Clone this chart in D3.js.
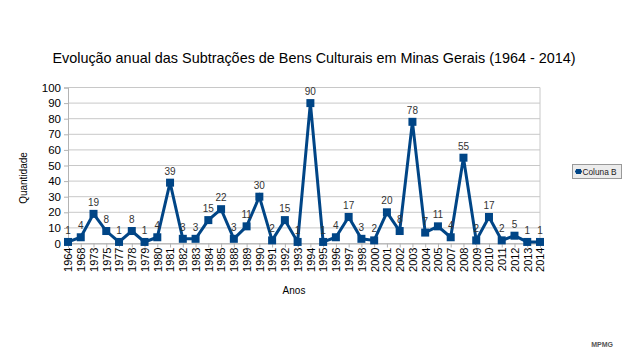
<!DOCTYPE html>
<html><head><meta charset="utf-8">
<script src="https://cdn.jsdelivr.net/npm/d3@7"></script>
<style>body{margin:0;background:#fff}svg{display:block}text{font-family:"Liberation Sans",Arial,sans-serif}</style>
</head><body><svg id="c" width="624" height="351"></svg>
<script>
const years = ["1964","1968","1973","1975","1977","1978","1979","1980","1981","1982","1983","1984","1985","1988","1989","1990","1991","1992","1993","1994","1995","1996","1997","1998","2000","2001","2002","2003","2004","2005","2007","2008","2009","2010","2011","2012","2013","2014"];
const values = [1,4,19,8,1,8,1,4,39,3,3,15,22,3,11,30,2,15,1,90,1,4,17,3,2,20,8,78,7,11,4,55,2,17,2,5,1,1];
const yTicks = [0,10,20,30,40,50,60,70,80,90,100];
const title = "Evolução anual das Subtrações de Bens Culturais em Minas Gerais (1964 - 2014)";
const seriesName = "Coluna B";

const svg = d3.select("#c");
const L = 68, R = 540, T = 87.5, B = 243.5;
const x = d3.scalePoint().domain(years).range([L, R]);
const y = d3.scaleLinear().domain([0, 100]).range([B, T]);
const col = "#004586";

svg.append("text").attr("x", 314).attr("y", 63).attr("text-anchor", "middle")
  .attr("font-size", 14.4).attr("fill", "#000").text(title);

// grid
svg.append("g").selectAll("line").data(yTicks).join("line")
  .attr("x1", L).attr("x2", R).attr("y1", d => y(d)).attr("y2", d => y(d))
  .attr("stroke", "#c8c8c8").attr("stroke-width", 1);
svg.append("line").attr("x1", R).attr("x2", R).attr("y1", T).attr("y2", B).attr("stroke", "#c8c8c8");

// y axis
const ya = svg.append("g").attr("transform", `translate(${L},0)`)
  .call(d3.axisLeft(y).tickValues(yTicks).tickSize(4).tickPadding(3));
ya.select(".domain").attr("stroke", "#b3b3b3");
ya.selectAll(".tick line").attr("stroke", "#b3b3b3");
ya.selectAll("text").attr("font-size", 11.5).attr("fill", "#000").attr("font-family", '"Liberation Sans",Arial,sans-serif');

// x axis
const xa = svg.append("g").attr("transform", `translate(0,${B})`)
  .call(d3.axisBottom(x).tickSize(4).tickPadding(2));
xa.select(".domain").attr("stroke", "#b3b3b3");
xa.selectAll(".tick line").attr("stroke", "#b3b3b3");
xa.selectAll("text").attr("font-size", 11).attr("fill", "#000")
  .attr("font-family", '"Liberation Sans",Arial,sans-serif')
  .attr("transform", "rotate(-90)").attr("text-anchor", "end")
  .attr("dy", "0.35em").attr("x", -4).attr("y", 0);

svg.append("text").attr("x", 294).attr("y", 294).attr("text-anchor", "middle")
  .attr("font-size", 10).attr("fill", "#000").text("Anos");
svg.append("text").attr("transform", "translate(27,178) rotate(-90)").attr("text-anchor", "middle")
  .attr("font-size", 10).attr("fill", "#000").text("Quantidade");

// line
svg.append("path").datum(values)
  .attr("d", d3.line().x((d, i) => x(years[i])).y(d => y(d)))
  .attr("fill", "none").attr("stroke", col).attr("stroke-width", 3).attr("stroke-linejoin", "miter");
svg.append("g").selectAll("rect").data(values).join("rect")
  .attr("x", (d, i) => x(years[i]) - 4).attr("y", d => y(d) - 4)
  .attr("width", 8).attr("height", 8).attr("fill", col);
svg.append("g").selectAll("text").data(values).join("text")
  .attr("x", (d, i) => x(years[i])).attr("y", d => y(d) - 8)
  .attr("text-anchor", "middle").attr("font-size", 10).attr("fill", "#333").text(d => d);

// legend
const lg = svg.append("g").attr("transform", "translate(572,164)");
lg.append("rect").attr("x", 0.5).attr("y", 0.5).attr("width", 49).attr("height", 14).attr("fill", "#ececec").attr("stroke", "#999");
lg.append("line").attr("x1", 3).attr("x2", 10).attr("y1", 7.5).attr("y2", 7.5).attr("stroke", col).attr("stroke-width", 2);
lg.append("rect").attr("x", 4).attr("y", 5).attr("width", 5).attr("height", 5).attr("fill", col);
lg.append("text").attr("x", 10.5).attr("y", 11).attr("font-size", 8.3).attr("fill", "#222").text(seriesName);

// watermark
svg.append("text").attr("x", 613).attr("y", 347).attr("text-anchor", "end")
  .attr("font-size", 7).attr("font-weight", "bold").attr("fill", "#555").text("MPMG");
</script></body></html>
